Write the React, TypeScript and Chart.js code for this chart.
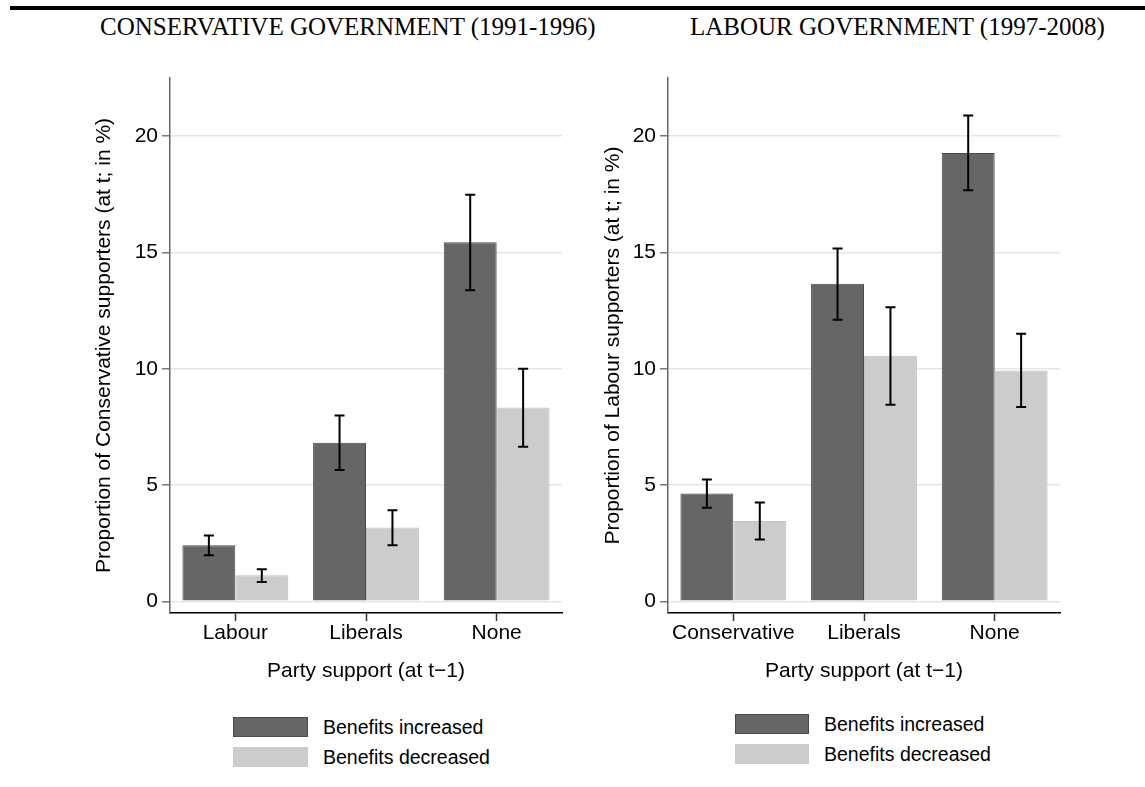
import React, { useEffect, useRef } from "react";
import { Chart, registerables } from "chart.js";

Chart.register(...registerables);

// ---------- data ----------
const LEFT_TITLE = "CONSERVATIVE GOVERNMENT (1991-1996)";
const RIGHT_TITLE = "LABOUR GOVERNMENT (1997-2008)";
const SERIES_NAMES = ["Benefits increased", "Benefits decreased"];
const X_TITLE = "Party support (at t\u22121)";
const LEFT_Y_TITLE = "Proportion of Conservative supporters (at t; in %)";
const RIGHT_Y_TITLE = "Proportion of Labour supporters (at t; in %)";

const LEFT_CATEGORIES = ["Labour", "Liberals", "None"];
const LEFT_INCREASED = [2.41, 6.82, 15.44];
const LEFT_INCREASED_LO = [1.98, 5.65, 13.38];
const LEFT_INCREASED_HI = [2.83, 7.99, 17.48];
const LEFT_DECREASED = [1.12, 3.18, 8.33];
const LEFT_DECREASED_LO = [0.83, 2.41, 6.65];
const LEFT_DECREASED_HI = [1.38, 3.92, 10.0];

const RIGHT_CATEGORIES = ["Conservative", "Liberals", "None"];
const RIGHT_INCREASED = [4.64, 13.65, 19.28];
const RIGHT_INCREASED_LO = [4.02, 12.11, 17.67];
const RIGHT_INCREASED_HI = [5.24, 15.17, 20.89];
const RIGHT_DECREASED = [3.46, 10.56, 9.93];
const RIGHT_DECREASED_LO = [2.66, 8.45, 8.36];
const RIGHT_DECREASED_HI = [4.25, 12.64, 11.51];

const Y_TICKS = [0, 5, 10, 15, 20];
const Y_MIN = -0.5;
const Y_MAX = 22.5;

// ---------- styles ----------
const DARK = "#666666";
const DARK_EDGE = "#4a4a4a";
const LIGHT = "#cccccc";
const LIGHT_EDGE = "#c2c2c2";
const SANS = "'Liberation Sans', Arial, Helvetica, sans-serif";
const SERIF = "'Liberation Serif', 'Times New Roman', serif";

type PanelProps = {
  left: number;
  width: number;
  yScaleWidth: number;
  rightPad: number;
  yTitlePad: number;
  yTitle: string;
  categories: string[];
  inc: number[];
  incLo: number[];
  incHi: number[];
  dec: number[];
  decLo: number[];
  decHi: number[];
};

const TOP = 50;
const HEIGHT = 650;

function Panel(p: PanelProps) {
  const ref = useRef<HTMLCanvasElement | null>(null);
  useEffect(() => {
    if (!ref.current) return;
    const lows = [p.incLo, p.decLo];
    const highs = [p.incHi, p.decHi];
    const errorBars = {
      id: "errorBars",
      afterDatasetsDraw(chart: any) {
        const ctx = chart.ctx;
        const y = chart.scales.y;
        ctx.save();
        ctx.strokeStyle = "#000";
        ctx.lineWidth = 2;
        chart.data.datasets.forEach((_: any, di: number) => {
          const meta = chart.getDatasetMeta(di);
          meta.data.forEach((bar: any, i: number) => {
            const x = bar.x;
            const y1 = y.getPixelForValue(lows[di][i]);
            const y2 = y.getPixelForValue(highs[di][i]);
            ctx.beginPath();
            ctx.moveTo(x, y1);
            ctx.lineTo(x, y2);
            ctx.moveTo(x - 5, y1);
            ctx.lineTo(x + 5, y1);
            ctx.moveTo(x - 5, y2);
            ctx.lineTo(x + 5, y2);
            ctx.stroke();
          });
        });
        ctx.restore();
      },
    };
    const chart = new Chart(ref.current, {
      type: "bar",
      data: {
        labels: p.categories,
        datasets: [
          {
            label: SERIES_NAMES[0],
            data: p.inc,
            backgroundColor: DARK,
            borderColor: DARK_EDGE,
            borderWidth: 1,
          },
          {
            label: SERIES_NAMES[1],
            data: p.dec,
            backgroundColor: LIGHT,
            borderColor: LIGHT_EDGE,
            borderWidth: 1,
          },
        ],
      },
      options: {
        responsive: false,
        animation: false,
        events: [],
        layout: { padding: { top: 28, right: p.rightPad, left: 0, bottom: 0 } },
        datasets: { bar: { categoryPercentage: 0.81, barPercentage: 1 } },
        plugins: {
          legend: { display: false },
          tooltip: { enabled: false },
          title: { display: false },
        },
        scales: {
          x: {
            type: "category",
            offset: true,
            grid: {
              offset: false,
              drawOnChartArea: false,
              drawTicks: true,
              tickLength: 8,
              tickColor: "#333",
              tickWidth: 1.5,
            },
            border: { display: true, color: "#000", width: 1.5 },
            ticks: {
              color: "#000",
              font: { family: SANS, size: 21 },
              padding: 0,
              maxRotation: 0,
              autoSkip: false,
            },
            title: {
              display: true,
              text: X_TITLE,
              color: "#000",
              font: { family: SANS, size: 21 },
              padding: { top: 16, bottom: 16 },
            },
            afterFit: (s: any) => {
              s.height = TOP + HEIGHT - 613;
            },
          },
          y: {
            min: Y_MIN,
            max: Y_MAX,
            afterBuildTicks: (s: any) => {
              s.ticks = Y_TICKS.map((v) => ({ value: v }));
            },
            grid: {
              color: "#e6e6e6",
              lineWidth: 1.5,
              tickColor: "#777",
              tickLength: 8,
              tickWidth: 1.5,
            },
            border: { display: true, color: "#666", width: 1.5 },
            ticks: {
              color: "#000",
              font: { family: SANS, size: 21 },
              padding: 4,
            },
            title: {
              display: true,
              text: p.yTitle,
              color: "#000",
              font: { family: SANS, size: 21 },
              padding: { top: p.yTitlePad, bottom: 0 },
            },
            afterFit: (s: any) => {
              s.width = p.yScaleWidth;
            },
          },
        },
      } as any,
      plugins: [errorBars],
    });
    return () => chart.destroy();
  }, []);
  return (
    <canvas
      ref={ref}
      width={p.width}
      height={HEIGHT}
      style={{ position: "absolute", left: p.left, top: TOP, width: p.width, height: HEIGHT }}
    />
  );
}

function Legend({ left, top, boxW, textX }: { left: number; top: number; boxW: number; textX: number }) {
  const rows = [
    { name: SERIES_NAMES[0], color: DARK, edge: DARK_EDGE },
    { name: SERIES_NAMES[1], color: LIGHT, edge: LIGHT },
  ];
  return (
    <>
      {rows.map((r, i) => (
        <React.Fragment key={r.name}>
          <div
            style={{
              position: "absolute",
              left,
              top: top + i * 30,
              width: boxW,
              height: 20,
              boxSizing: "border-box",
              background: r.color,
              border: `1px solid ${r.edge}`,
            }}
          />
          <div
            style={{
              position: "absolute",
              left: textX,
              top: top + i * 30 - 5,
              height: 30,
              lineHeight: "30px",
              fontFamily: SANS,
              fontSize: 19.5,
              color: "#000",
              whiteSpace: "nowrap",
            }}
          >
            {r.name}
          </div>
        </React.Fragment>
      ))}
    </>
  );
}

export default function App() {
  const titleStyle: React.CSSProperties = {
    position: "absolute",
    top: 14,
    fontFamily: SERIF,
    fontSize: 25,
    lineHeight: "25px",
    color: "#000",
    whiteSpace: "nowrap",
  };
  return (
    <div style={{ position: "absolute", left: 0, top: 0, width: 1145, height: 787, background: "#fff", overflow: "hidden" }}>
      <div style={{ position: "absolute", left: 10, top: 6, width: 1135, height: 4, background: "#000" }} />
      <div style={{ ...titleStyle, left: 100 }}>{LEFT_TITLE}</div>
      <div style={{ ...titleStyle, left: 690 }}>{RIGHT_TITLE}</div>
      <Panel
        left={0}
        width={572}
        yScaleWidth={170}
        rightPad={10}
        yTitlePad={92}
        yTitle={LEFT_Y_TITLE}
        categories={LEFT_CATEGORIES}
        inc={LEFT_INCREASED}
        incLo={LEFT_INCREASED_LO}
        incHi={LEFT_INCREASED_HI}
        dec={LEFT_DECREASED}
        decLo={LEFT_DECREASED_LO}
        decHi={LEFT_DECREASED_HI}
      />
      <Panel
        left={572}
        width={573}
        yScaleWidth={96}
        rightPad={85}
        yTitlePad={29}
        yTitle={RIGHT_Y_TITLE}
        categories={RIGHT_CATEGORIES}
        inc={RIGHT_INCREASED}
        incLo={RIGHT_INCREASED_LO}
        incHi={RIGHT_INCREASED_HI}
        dec={RIGHT_DECREASED}
        decLo={RIGHT_DECREASED_LO}
        decHi={RIGHT_DECREASED_HI}
      />
      <Legend left={233} top={717} boxW={75} textX={323} />
      <Legend left={735} top={714} boxW={74} textX={824} />
    </div>
  );
}
